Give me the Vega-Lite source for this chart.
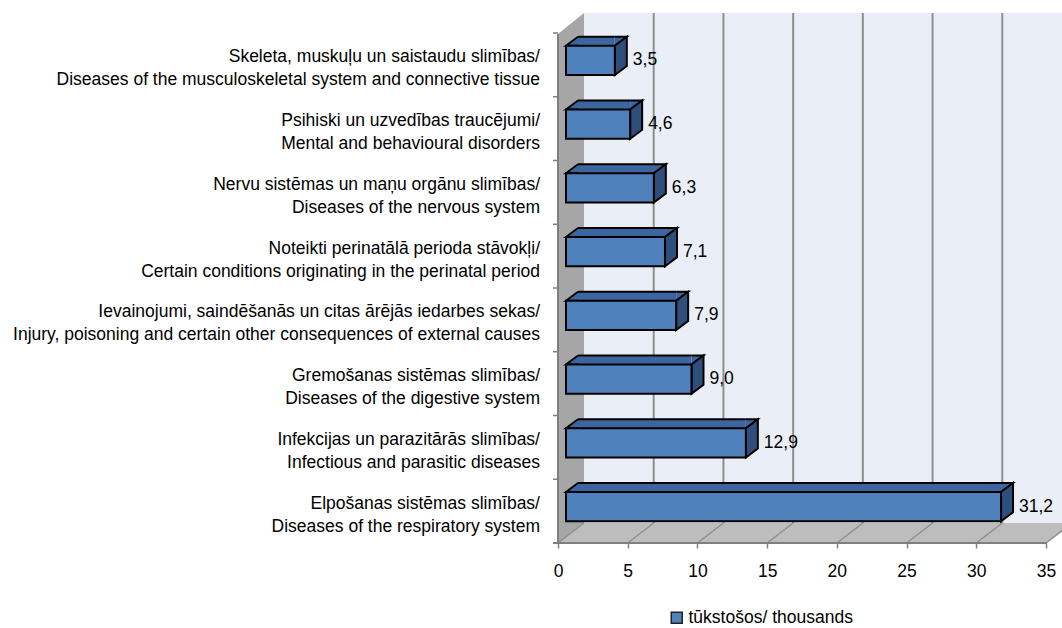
{
  "$schema": "https://vega.github.io/schema/vega-lite/v6.json",
  "width": 478,
  "height": 510,
  "autosize": {"type": "none"},
  "padding": {"left": 584, "top": 13, "right": 0, "bottom": 105},
  "background": "white",
  "config": {
    "view": {"fill": "#eaeef6", "stroke": null},
    "font": "Liberation Sans, Arial, sans-serif",
    "locale": {"number": {"decimal": ",", "thousands": " ", "grouping": [3], "currency": ["", ""]}}
  },
  "datasets": {
    "main": [
      {"lv": "Skeleta, muskuļu un saistaudu slimības/", "en": "Diseases of the musculoskeletal system and connective tissue", "value": 3.5},
      {"lv": "Psihiski un uzvedības traucējumi/", "en": "Mental and behavioural disorders", "value": 4.6},
      {"lv": "Nervu sistēmas un maņu orgānu slimības/", "en": "Diseases of the nervous system", "value": 6.3},
      {"lv": "Noteikti perinatālā perioda stāvokļi/", "en": "Certain conditions originating in the perinatal period", "value": 7.1},
      {"lv": "Ievainojumi, saindēšanās un citas ārējās iedarbes sekas/", "en": "Injury, poisoning and certain other consequences of external causes", "value": 7.9},
      {"lv": "Gremošanas sistēmas slimības/", "en": "Diseases of the digestive system", "value": 9.0},
      {"lv": "Infekcijas un parazitārās slimības/", "en": "Infectious and parasitic diseases", "value": 12.9},
      {"lv": "Elpošanas sistēmas slimības/", "en": "Diseases of the respiratory system", "value": 31.2}
    ],
    "ticks": [{"t": 0}, {"t": 5}, {"t": 10}, {"t": 15}, {"t": 20}, {"t": 25}, {"t": 30}, {"t": 35}]
  },
  "data": {"name": "main"},
  "layer": [
    {
      "data": {"name": "ticks"},
      "transform": [{"filter": "datum.t > 0"}],
      "mark": {"type": "rule", "color": "#8f8f8f", "strokeWidth": 2},
      "encoding": {
        "x": {"field": "t", "type": "quantitative", "title": null, "scale": {"domain": [0, 35], "range": [0, 488], "nice": false}}
      }
    },
    {
      "data": {"values": [{}]},
      "mark": {"type": "point", "shape": "M-26,-234L0,-255L0,255L-26,275Z", "size": 4, "filled": true, "fill": "#a6a6a6", "opacity": 1, "strokeWidth": 0},
      "encoding": {"x": {"datum": 0, "type": "quantitative", "title": null}}
    },
    {
      "data": {"values": [{}]},
      "mark": {"type": "point", "shape": "M0,255L488,255L462,275L-26,275Z", "size": 4, "filled": true, "fill": "#bdbdbd", "opacity": 1, "strokeWidth": 0},
      "encoding": {"x": {"datum": 0, "type": "quantitative", "title": null}}
    },
    {
      "data": {"name": "ticks"},
      "mark": {"type": "point", "shape": "M0,255L-26,275", "size": 4, "filled": false, "stroke": "#8f8f8f", "strokeWidth": 1.5, "opacity": 1},
      "encoding": {"x": {"field": "t", "type": "quantitative", "title": null}}
    },
    {
      "data": {"values": [{}]},
      "mark": {"type": "point", "shape": "M-26,-234L-26,275M-31,275L463,275", "size": 4, "filled": false, "stroke": "#7f7f7f", "strokeWidth": 2, "opacity": 1},
      "encoding": {"x": {"datum": 0, "type": "quantitative", "title": null}}
    },
    {
      "mark": {"type": "rule", "color": "#7f7f7f", "strokeWidth": 1.5, "xOffset": -31, "x2Offset": -26, "yOffset": 20},
      "encoding": {
        "x": {"datum": 0, "type": "quantitative", "title": null},
        "x2": {"datum": 0},
        "y": {"field": "en", "type": "nominal", "sort": null, "title": null, "bandPosition": 0}
      }
    },
    {
      "mark": {"type": "bar", "fill": "#3d66a0", "height": 9, "xOffset": -18, "x2Offset": -6, "yOffset": -3.65},
      "encoding": {
        "x": {"field": "value", "type": "quantitative", "title": null},
        "x2": {"datum": 0},
        "y": {"field": "en", "type": "nominal", "sort": null, "title": null}
      }
    },
    {
      "mark": {"type": "rule", "color": "black", "strokeWidth": 2, "xOffset": -18, "x2Offset": -6, "yOffset": -8.15},
      "encoding": {
        "x": {"field": "value", "type": "quantitative", "title": null},
        "x2": {"datum": 0},
        "y": {"field": "en", "type": "nominal", "sort": null, "title": null}
      }
    },
    {
      "mark": {"type": "point", "shape": "M12,0L0,0L12,-9", "size": 4, "filled": true, "fill": "#3d66a0", "stroke": "black", "strokeWidth": 2, "opacity": 1, "xOffset": -18, "yOffset": 0.85},
      "encoding": {
        "x": {"datum": 0, "type": "quantitative", "title": null},
        "y": {"field": "en", "type": "nominal", "sort": null, "title": null}
      }
    },
    {
      "mark": {"type": "point", "shape": "M0,-9L12,-9L0,0", "size": 4, "filled": true, "fill": "#3d66a0", "stroke": "black", "strokeWidth": 2, "opacity": 1, "xOffset": -18, "yOffset": 0.85},
      "encoding": {
        "x": {"field": "value", "type": "quantitative", "title": null},
        "y": {"field": "en", "type": "nominal", "sort": null, "title": null}
      }
    },
    {
      "mark": {"type": "point", "shape": "M0,0L12,-9L12,20.3L0,29.3Z", "size": 4, "filled": true, "fill": "#2e4e7c", "stroke": "black", "strokeWidth": 2, "opacity": 1, "xOffset": -18, "yOffset": 0.85},
      "encoding": {
        "x": {"field": "value", "type": "quantitative", "title": null},
        "y": {"field": "en", "type": "nominal", "sort": null, "title": null}
      }
    },
    {
      "mark": {"type": "bar", "height": 29.3, "stroke": "black", "strokeWidth": 2, "xOffset": -18, "x2Offset": -18, "yOffset": 15.5},
      "encoding": {
        "x": {
          "field": "value", "type": "quantitative", "title": null,
          "scale": {"domain": [0, 35], "range": [0, 488], "nice": false},
          "axis": {
            "values": [0, 5, 10, 15, 20, 25, 30, 35],
            "offset": 20, "tickOffset": -26, "domain": false, "grid": false,
            "ticks": true, "tickSize": 5, "tickColor": "#7f7f7f", "tickWidth": 1.5,
            "labelFontSize": 17.5, "labelColor": "black", "labelPadding": 14,
            "labelFlush": false, "labelOverlap": false, "zindex": 1
          }
        },
        "x2": {"datum": 0},
        "y": {
          "field": "en", "type": "nominal", "sort": null, "title": null,
          "scale": {"paddingInner": 0, "paddingOuter": 0},
          "axis": null
        },
        "color": {
          "datum": "tūkstošos/ thousands",
          "scale": {"range": ["#4f81bd"]},
          "legend": {
            "orient": "none", "legendX": 84, "legendY": 596, "title": null, "padding": 0,
            "symbolType": "square", "symbolSize": 121, "symbolStrokeColor": "#222222", "symbolStrokeWidth": 1.5,
            "labelFontSize": 17.5, "labelColor": "black", "labelOffset": 3, "labelLimit": 400
          }
        }
      }
    },
    {
      "mark": {"type": "text", "align": "left", "baseline": "middle", "fontSize": 17.5, "color": "black", "xOffset": 0, "yOffset": 15.5},
      "encoding": {
        "x": {"field": "value", "type": "quantitative", "title": null},
        "y": {"field": "en", "type": "nominal", "sort": null, "title": null},
        "text": {"field": "value", "type": "quantitative", "format": ".1f"}
      }
    },
    {
      "mark": {"type": "text", "align": "right", "baseline": "middle", "fontSize": 17.5, "color": "black", "xOffset": -44, "yOffset": 12.6},
      "encoding": {
        "x": {"datum": 0, "type": "quantitative", "title": null},
        "y": {"field": "en", "type": "nominal", "sort": null, "title": null},
        "text": {"field": "lv", "type": "nominal"}
      }
    },
    {
      "mark": {"type": "text", "align": "right", "baseline": "middle", "fontSize": 17.5, "color": "black", "xOffset": -44, "yOffset": 35.6},
      "encoding": {
        "x": {"datum": 0, "type": "quantitative", "title": null},
        "y": {"field": "en", "type": "nominal", "sort": null, "title": null},
        "text": {"field": "en", "type": "nominal"}
      }
    }
  ]
}
